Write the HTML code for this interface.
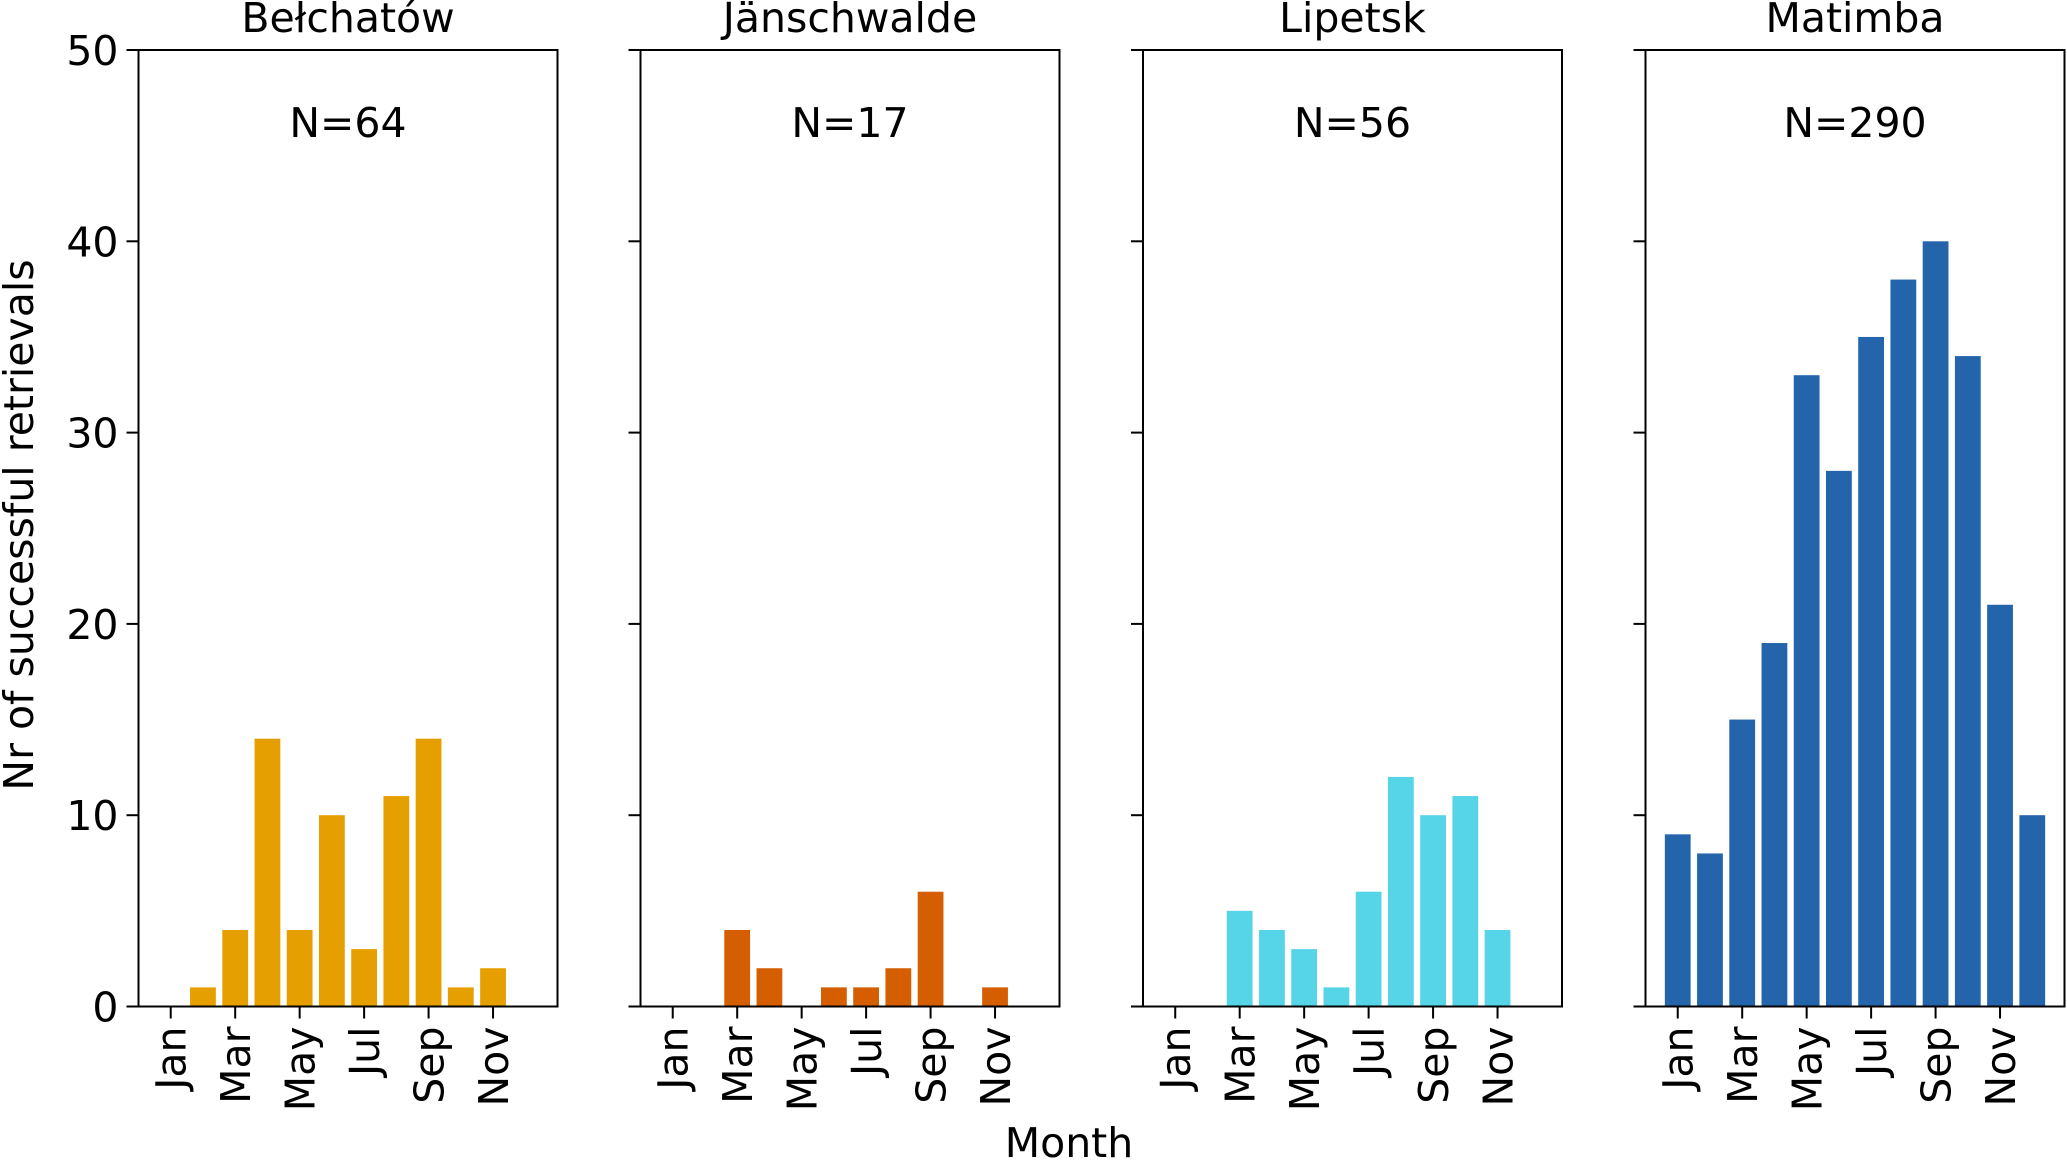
<!DOCTYPE html>
<html><head><meta charset="utf-8"><style>
html,body{margin:0;padding:0;background:#fff;}
svg{display:block;}
text{font-family:"DejaVu Sans","Liberation Sans",sans-serif;fill:#000;}
</style></head><body>
<svg id="chart" width="2067" height="1161" viewBox="0 0 2067 1161" xmlns="http://www.w3.org/2000/svg"></svg>
<script>
const months = ["Jan","Feb","Mar","Apr","May","Jun","Jul","Aug","Sep","Oct","Nov","Dec"];
const tickMonths = [1,3,5,7,9,11];
const yTicks = [0,10,20,30,40,50];
const plantNames = ["Bełchatów","Jänschwalde","Lipetsk","Matimba"];
const belchatowValues = [0,1,4,14,4,10,3,11,14,1,2,0];
const janschwaldeValues = [0,0,4,2,0,1,1,2,6,0,1,0];
const lipetskValues = [0,0,5,4,3,1,6,12,10,11,4,0];
const matimbaValues = [9,8,15,19,33,28,35,38,40,34,21,10];
const nLabels = ["N=64","N=17","N=56","N=290"];

const series = [belchatowValues, janschwaldeValues, lipetskValues, matimbaValues];
const colors = ["#E69F00","#D55E00","#56D4E8","#2364AA"];
const panelLeft = [138.5, 640.5, 1143, 1645.5];
const panelW = 419, plotTop = 50, plotBottom = 1006.5;
const xMin = 0.0, xMax = 13.0, yMax = 50;
const FS = 41;
const NS = "http://www.w3.org/2000/svg";
const svg = document.getElementById('chart');
function mk(tag, attrs, parent){
  const e = document.createElementNS(NS, tag);
  for (const k in attrs) e.setAttribute(k, attrs[k]);
  (parent||svg).appendChild(e);
  return e;
}
function yS(v){ return plotBottom - v/yMax*(plotBottom-plotTop); }

series.forEach((vals, p) => {
  const L = panelLeft[p];
  const xS = m => L + (m - xMin)/(xMax - xMin)*panelW;
  const g = mk('g', {});
  
  
  vals.forEach((v, i) => {
    if (v <= 0) return;
    const m = i + 1;
    const r = mk('rect', {x: xS(m-0.4), y: yS(v), width: xS(m+0.4)-xS(m-0.4), height: yS(0)-yS(v), fill: colors[p]}, g);
    
    
  });
  const frame = mk('rect', {x: L, y: plotTop, width: panelW, height: plotBottom-plotTop, fill: 'none', stroke: '#000', 'stroke-width': 2}, g);
  
  
  yTicks.forEach(t => {
    const tl = mk('line', {x1: L-12, x2: L, y1: yS(t), y2: yS(t), stroke: '#000', 'stroke-width': 2}, g);
    
    
    if (p === 0) {
      const tx = mk('text', {x: L-20, y: yS(t)+15, 'text-anchor': 'end', 'font-size': FS}, g);
      tx.textContent = t;
      
      
    }
  });
  tickMonths.forEach(m => {
    const tl = mk('line', {x1: xS(m), x2: xS(m), y1: plotBottom, y2: plotBottom+12, stroke: '#000', 'stroke-width': 2}, g);
    
    
    const tx = mk('text', {x: 0, y: 0, 'text-anchor': 'end', 'font-size': FS,
      transform: 'translate(' + (xS(m)+15) + ',' + (plotBottom+20) + ') rotate(-90)'}, g);
    tx.textContent = months[m-1];
    
    
  });
  const title = mk('text', {x: L+panelW/2, y: 32, 'text-anchor': 'middle', 'font-size': FS}, g);
  title.textContent = plantNames[p];
  
  
  const nt = mk('text', {x: L+panelW/2, y: 137, 'text-anchor': 'middle', 'font-size': FS}, g);
  nt.textContent = nLabels[p];
  
  
});
const yl = mk('text', {x: 0, y: 0, 'text-anchor': 'middle', 'font-size': FS, transform: 'translate(33,525) rotate(-90)'});
yl.textContent = 'Nr of successful retrievals';


const xl = mk('text', {x: 1069, y: 1157, 'text-anchor': 'middle', 'font-size': FS});
xl.textContent = 'Month';


</script>
</body></html>
